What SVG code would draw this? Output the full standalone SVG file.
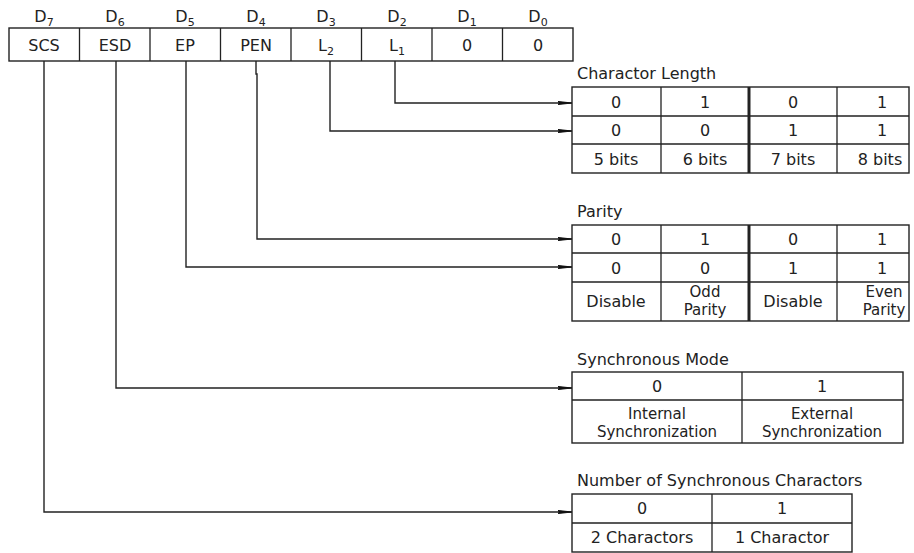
<svg xmlns="http://www.w3.org/2000/svg" width="914" height="553" viewBox="0 0 914 553">
<defs>
<style>
text{font-family:"DejaVu Sans","Liberation Sans",sans-serif;font-size:16px;fill:#222;text-anchor:middle}
text.t{text-anchor:start}
text.two{font-size:15px}
.sub{font-size:11px}
.box{fill:none;stroke:#222;stroke-width:1.4}
.ln{fill:none;stroke:#222;stroke-width:1.3}
.thick{stroke:#222;stroke-width:3}
.conn{fill:none;stroke:#222;stroke-width:1.4;marker-end:url(#ah)}
</style>
<marker id="ah" markerUnits="userSpaceOnUse" markerWidth="14" markerHeight="8" refX="14" refY="4" orient="auto">
<path d="M0,2.6 L14,4 L0,5.4 L2,4 Z" fill="#111" stroke="#111" stroke-width="1.2"/>
</marker>
</defs>
<rect width="914" height="553" fill="#fff"/>

<g id="register">
<rect class="box" x="9" y="28" width="564" height="33"/>
<path class="ln" d="M79.5,28V61M150,28V61M220.5,28V61M291,28V61M361.5,28V61M432,28V61M502.5,28V61"/>
<text x="44" y="22">D<tspan class="sub" dy="4">7</tspan></text>
<text x="115" y="22">D<tspan class="sub" dy="4">6</tspan></text>
<text x="185" y="22">D<tspan class="sub" dy="4">5</tspan></text>
<text x="256" y="22">D<tspan class="sub" dy="4">4</tspan></text>
<text x="326" y="22">D<tspan class="sub" dy="4">3</tspan></text>
<text x="397" y="22">D<tspan class="sub" dy="4">2</tspan></text>
<text x="467" y="22">D<tspan class="sub" dy="4">1</tspan></text>
<text x="538" y="22">D<tspan class="sub" dy="4">0</tspan></text>
<text x="44" y="51">SCS</text>
<text x="115" y="51">ESD</text>
<text x="185" y="51">EP</text>
<text x="256" y="51">PEN</text>
<text x="326" y="51">L<tspan class="sub" dy="4">2</tspan></text>
<text x="397" y="51">L<tspan class="sub" dy="4">1</tspan></text>
<text x="467" y="51">0</text>
<text x="538" y="51">0</text>
</g>

<g id="connectors">
<path class="conn" d="M395,61V103H572"/>
<path class="conn" d="M330,61V131H572"/>
<path class="conn" d="M256,61V74H257V239H572"/>
<path class="conn" d="M186,61V267H572"/>
<path class="conn" d="M116,61V388H572"/>
<path class="conn" d="M44,61V512H572"/>
</g>

<g id="char-length">
<text class="t" x="577" y="79">Charactor Length</text>
<rect class="box" x="572" y="87" width="337" height="86"/>
<path class="ln" d="M572,116H909M572,144H909M661,87V173M837,87V173"/>
<path class="thick" d="M749,87V173"/>
<text x="616" y="108">0</text><text x="705" y="108">1</text><text x="793" y="108">0</text><text x="882" y="108">1</text>
<text x="616" y="136">0</text><text x="705" y="136">0</text><text x="793" y="136">1</text><text x="882" y="136">1</text>
<text x="616" y="165">5 bits</text><text x="705" y="165">6 bits</text><text x="793" y="165">7 bits</text><text x="880" y="165">8 bits</text>
</g>

<g id="parity">
<text class="t" x="577" y="217">Parity</text>
<rect class="box" x="572" y="225" width="337" height="96"/>
<path class="ln" d="M572,253H909M572,282H909M661,225V321M837,225V321"/>
<path class="thick" d="M749,225V321"/>
<text x="616" y="245">0</text><text x="705" y="245">1</text><text x="793" y="245">0</text><text x="882" y="245">1</text>
<text x="616" y="274">0</text><text x="705" y="274">0</text><text x="793" y="274">1</text><text x="882" y="274">1</text>
<text x="616" y="307">Disable</text>
<text class="two" x="705" y="297">Odd</text><text class="two" x="705" y="315">Parity</text>
<text x="793" y="307">Disable</text>
<text class="two" x="884" y="297">Even</text><text class="two" x="884" y="315">Parity</text>
</g>

<g id="sync-mode">
<text class="t" x="577" y="365">Synchronous Mode</text>
<rect class="box" x="572" y="372" width="331" height="71"/>
<path class="ln" d="M572,400H903M742,372V443"/>
<text x="657" y="392">0</text><text x="822" y="392">1</text>
<text class="two" x="657" y="419">Internal</text><text class="two" x="657" y="437">Synchronization</text>
<text class="two" x="822" y="419">External</text><text class="two" x="822" y="437">Synchronization</text>
</g>

<g id="sync-chars">
<text class="t" x="577" y="486">Number of Synchronous Charactors</text>
<rect class="box" x="572" y="494" width="280" height="58"/>
<path class="ln" d="M572,523H852M712,494V552"/>
<text x="642" y="514">0</text><text x="782" y="514">1</text>
<text x="642" y="543">2 Charactors</text><text x="782" y="543">1 Charactor</text>
</g>
</svg>
